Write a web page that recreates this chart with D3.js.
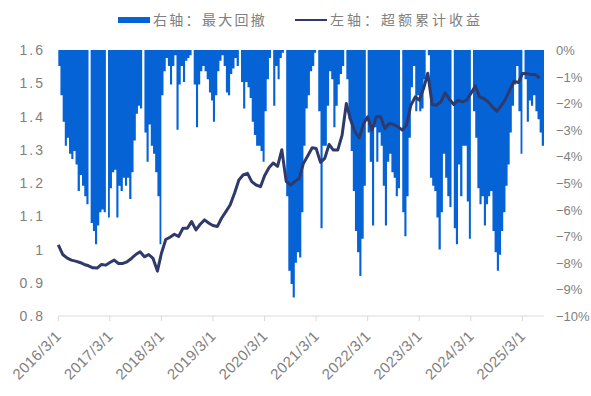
<!DOCTYPE html>
<html>
<head>
<meta charset="utf-8">
<script src="https://cdn.jsdelivr.net/npm/d3@7/dist/d3.min.js"></script>
<style>
  body { margin: 0; background: #fff; }
  text { font-family: "Liberation Sans", Arial, sans-serif; fill: #7f7f7f; }
  .legend text { font-family: "Noto Sans CJK SC", sans-serif; fill: #808080; }
</style>
</head>
<body>
<svg id="chart"></svg>
<script>
'use strict';

// right axis: max drawdown (%), sampled twice a month from 2016/3/1
var drawdown = [
  0.6, 1.7, 2.7, 3.6, 3.3, 3.9, 4.1, 3.8, 4.3, 5.3, 4.7, 5.1, 5.5, 5.8, 0, 6.5,
  6.8, 7.3, 6.6, 6.1, 6.0, 6.1, 0, 6.3, 5.2, 4.6, 4.5, 6.3, 5.1, 5.3, 4.8, 5.1,
  4.8, 5.6, 4.6, 3.4, 2.4, 2.1, 2.2, 0, 3.1, 4.2, 2.8, 3.6, 3.9, 4.6, 5.5, 7.3,
  1.7, 0.8, 0.3, 0.6, 1.3, 0.6, 0.2, 3.0, 1.3, 0.6, 1.2, 0.4, 0.3, 0.2, 0, 1.3,
  2.9, 1.3, 0.8, 0.6, 0.8, 1.1, 1.6, 1.9, 2.7, 1.7, 0.8, 0.4, 0.2, 0.6, 1.6, 1.7,
  0.9, 0.7, 0.3, 0.6, 0, 1.2, 2.2, 1.2, 1.4, 1.8, 2.7, 3.2, 3.6, 3.6, 3.8, 4.2,
  2.3, 1.1, 0.3, 0, 2.1, 0.6, 1.1, 0.3, 0.1, 0, 5.5, 8.3, 8.8, 9.3, 8.0, 7.6,
  7.8, 6.1, 3.6, 2.2, 1.7, 0.8, 0.6, 0.1, 0, 2.3, 6.7, 3.6, 3.6, 2.1, 0.8, 1.1,
  2.9, 2.1, 1.3, 0.9, 0.6, 0, 1.1, 2.6, 3.8, 5.3, 6.8, 7.6, 8.5, 7.1, 5.1, 0,
  3.1, 4.2, 6.6, 2.9, 4.2, 3.1, 3.6, 5.1, 6.6, 4.2, 3.9, 4.6, 4.8, 5.5, 5.2, 0,
  6.1, 7.0, 5.5, 3.3, 1.4, 0.6, 2.3, 1.7, 2.3, 2.2, 1.1, 0, 0.2, 4.8, 5.1, 5.3,
  6.3, 7.5, 6.1, 3.9, 4.8, 5.5, 5.9, 0, 6.7, 7.3, 4.3, 5.5, 3.6, 3.6, 5.7, 7.1,
  0, 2.3, 3.3, 5.2, 5.8, 5.5, 6.6, 5.8, 5.5, 5.3, 6.8, 7.6, 8.3, 7.7, 6.8, 6.1,
  5.1, 4.3, 3.1, 2.1, 1.3, 0.6, 2.3, 3.9, 0, 1.1, 2.7, 1.9, 2.1, 1.7, 2.3, 2.6,
  3.1, 3.6
];

// left axis: cumulative excess return, monthly from 2016/3/1
var excess = [
  1.014, 0.985, 0.975, 0.968, 0.965, 0.961, 0.955, 0.951, 0.945, 0.944, 0.955, 0.953,
  0.961, 0.968, 0.958, 0.958, 0.963, 0.973, 0.985, 0.993, 0.978, 0.985, 0.973, 0.935,
  0.988, 1.030, 1.037, 1.046, 1.039, 1.064, 1.064, 1.084, 1.059, 1.076, 1.089, 1.079,
  1.072, 1.069, 1.094, 1.114, 1.134, 1.169, 1.209, 1.224, 1.229, 1.204, 1.194, 1.189,
  1.222, 1.246, 1.260, 1.250, 1.300, 1.205, 1.194, 1.204, 1.214, 1.259, 1.282, 1.306,
  1.304, 1.262, 1.274, 1.316, 1.299, 1.299, 1.344, 1.439, 1.389, 1.354, 1.336, 1.379,
  1.399, 1.359, 1.399, 1.399, 1.364, 1.379, 1.376, 1.369, 1.359, 1.374, 1.434, 1.459,
  1.449, 1.484, 1.530, 1.436, 1.434, 1.444, 1.471, 1.452, 1.436, 1.449, 1.444, 1.449,
  1.469, 1.492, 1.459, 1.454, 1.444, 1.429, 1.416, 1.432, 1.452, 1.479, 1.506, 1.502,
  1.529, 1.529, 1.526, 1.526, 1.516
];

var years = [2016, 2017, 2018, 2019, 2020, 2021, 2022, 2023, 2024, 2025];
var leftTicks = [0.8, 0.9, 1.0, 1.1, 1.2, 1.3, 1.4, 1.5, 1.6];
var rightTicks = [0, -1, -2, -3, -4, -5, -6, -7, -8, -9, -10];
var legendNames = ['右轴：最大回撤', '左轴：超额累计收益'];

var W = 591, H = 396,
    margin = { left: 58.3, right: 47, top: 50, bottom: 80 };
var endDate = new Date(2025, 7, 1);

var svg = d3.select('#chart').attr('width', W).attr('height', H);

var ddDates = drawdown.map(function (d, i) {
    return new Date(2016, 2 + Math.floor(i / 2), i % 2 ? 16 : 1);
});
var lineDates = excess.map(function (d, i) { return new Date(2016, 2 + i, 1); });

var x = d3.scaleTime()
    .domain([new Date(2016, 2, 1), endDate])
    .range([margin.left, W - margin.right]);
var yL = d3.scaleLinear().domain([0.8, 1.6]).range([H - margin.bottom, margin.top]);
var yR = d3.scaleLinear().domain([-10, 0]).range([H - margin.bottom, margin.top]);

// drawdown area hanging from 0%, one step per sample
var ddPts = drawdown.map(function (d, i) { return [ddDates[i], d]; });
ddPts.push([endDate, drawdown[drawdown.length - 1]]);
var area = d3.area()
    .curve(d3.curveStepAfter)
    .x(function (d) { return x(d[0]); })
    .y0(yR(0))
    .y1(function (d) { return yR(-d[1]); });
svg.append('path')
    .datum(ddPts)
    .attr('d', area)
    .attr('fill', '#0563d6');

// x axis
var xAxis = svg.append('g').attr('transform', 'translate(0,' + yL(0.8) + ')');
xAxis.append('line')
    .attr('x1', x.range()[0]).attr('x2', x.range()[1])
    .attr('stroke', '#d9d9d9').attr('stroke-width', 1);
xAxis.selectAll('line.tick')
    .data(years)
    .join('line')
    .attr('class', 'tick')
    .attr('x1', function (d) { return x(new Date(d, 2, 1)); })
    .attr('x2', function (d) { return x(new Date(d, 2, 1)); })
    .attr('y1', 0).attr('y2', 5)
    .attr('stroke', '#d9d9d9');
var fmt = d3.timeFormat('%Y/%-m/%-d');
xAxis.selectAll('text')
    .data(years)
    .join('text')
    .attr('transform', function (d) {
        return 'translate(' + (x(new Date(d, 2, 1)) + 4) + ',21) rotate(-45)';
    })
    .attr('text-anchor', 'end')
    .attr('font-size', 15)
    .attr('letter-spacing', 0.4)
    .text(function (d) { return fmt(new Date(d, 2, 1)); });

// left axis labels
svg.append('g').selectAll('text')
    .data(leftTicks)
    .join('text')
    .attr('x', 45)
    .attr('y', function (d) { return yL(d) + 5; })
    .attr('text-anchor', 'end')
    .attr('font-size', 14)
    .attr('letter-spacing', 2)
    .text(function (d) { return d3.format('~g')(d); });

// right axis labels
svg.append('g').selectAll('text')
    .data(rightTicks)
    .join('text')
    .attr('x', 556)
    .attr('y', function (d) { return yR(d) + 5; })
    .attr('font-size', 13)
    .text(function (d) { return (d < 0 ? '\u2212' + (-d) : d) + '%'; });

// excess return line
var line = d3.line()
    .x(function (d, i) { return x(lineDates[i]); })
    .y(function (d) { return yL(d); });
svg.append('path')
    .datum(excess)
    .attr('d', line)
    .attr('fill', 'none')
    .attr('stroke', '#2f3a6b')
    .attr('stroke-width', 3)
    .attr('stroke-linejoin', 'round');

// legend
var lg = svg.append('g').attr('class', 'legend');
lg.append('rect').attr('x', 118).attr('y', 17).attr('width', 32).attr('height', 6).attr('fill', '#0563d6');
lg.append('text').attr('x', 153).attr('y', 25).attr('font-size', 14).attr('letter-spacing', 2.3).text(legendNames[0]);
lg.append('line').attr('x1', 295).attr('x2', 327).attr('y1', 20).attr('y2', 20)
    .attr('stroke', '#2f3a6b').attr('stroke-width', 2);
lg.append('text').attr('x', 330).attr('y', 25).attr('font-size', 14).attr('letter-spacing', 3).text(legendNames[1]);
</script>
</body>
</html>
